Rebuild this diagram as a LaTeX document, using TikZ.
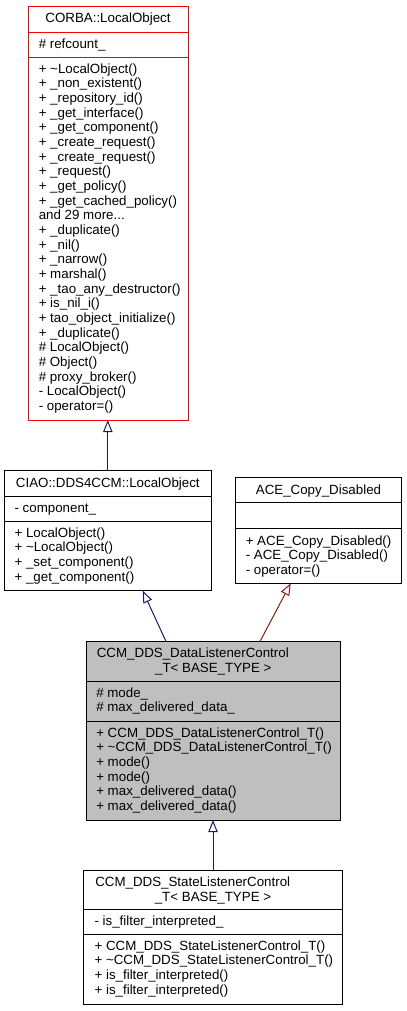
\documentclass[tikz,border=0pt]{standalone}
\usepackage{fontspec}
\setmainfont{Liberation Sans}
\usetikzlibrary{arrows.meta}
\definecolor{edgeblue}{HTML}{191970}
\definecolor{edgered}{HTML}{8B1A1A}
\definecolor{boxgray}{HTML}{BFBFBF}
\begin{document}
\begin{tikzpicture}[x=0.75pt,y=-0.75pt,
  box/.style={draw=black, line width=0.75pt, inner sep=0, outer sep=0, anchor=north west},
  mem/.style={anchor=base west, inner sep=0, font=\fontsize{10}{11}\selectfont},
  hdr/.style={anchor=base, inner sep=0, font=\fontsize{10}{11}\selectfont},
  sepline/.style={line width=0.75pt},
  inhB/.style={draw=edgeblue, line width=0.75pt, -{Triangle[open, length=9pt, width=7pt]}},
  inhR/.style={draw=edgered, line width=0.75pt, -{Triangle[open, length=9pt, width=7pt]}}]
\useasboundingbox (0,0) rectangle (407,1011);

% ---------- CORBA::LocalObject ----------
\node[box, draw=red, minimum width=120pt, minimum height=310.5pt] (corba) at (28,6) {};
\draw[sepline, red] (corba.west |- 0,32) -- (corba.east |- 0,32);
\draw[sepline, red] (corba.west |- 0,57) -- (corba.east |- 0,57);
\node[hdr] (corbaH) at (108,22.5) {CORBA::LocalObject};
\node[mem] (corbaA) at (38.5,48.3) {\# refcount\_};
\foreach \t [count=\i] in {
  {+ \textasciitilde LocalObject()},
  {+ \_non\_existent()},
  {+ \_repository\_id()},
  {+ \_get\_interface()},
  {+ \_get\_component()},
  {+ \_create\_request()},
  {+ \_create\_request()},
  {+ \_request()},
  {+ \_get\_policy()},
  {+ \_get\_cached\_policy()},
  {and 29 more{.}{.}{.}},
  {+ \_duplicate()},
  {+ \_nil()},
  {+ \_narrow()},
  {+ marshal()},
  {+ \_tao\_any\_destructor()},
  {+ is\_nil\_i()},
  {+ tao\_object\_initialize()},
  {+ \_duplicate()},
  {\# LocalObject()},
  {\# Object()},
  {\# proxy\_broker()},
  {- LocalObject()},
  {- operator=()}}
  \node[mem] (corbaM\i) at (38.5,{73.3+14.667*(\i-1)}) {\t};

% ---------- CIAO::DDS4CCM::LocalObject ----------
\node[box, minimum width=155.25pt, minimum height=90pt] (ciao) at (4.3,470.7) {};
\draw[sepline] (ciao.west |- 0,496) -- (ciao.east |- 0,496);
\draw[sepline] (ciao.west |- 0,521) -- (ciao.east |- 0,521);
\node[hdr] (ciaoH) at (107.8,487) {CIAO::DDS4CCM::LocalObject};
\node[mem] (ciaoA) at (14.3,512.3) {- component\_};
\foreach \t [count=\i] in {
  {+ LocalObject()},
  {+ \textasciitilde LocalObject()},
  {+ \_set\_component()},
  {+ \_get\_component()}}
  \node[mem] (ciaoM\i) at (14.3,{537.3+14.667*(\i-1)}) {\t};

% ---------- ACE_Copy_Disabled ----------
\node[box, minimum width=124.8pt, minimum height=79.2pt] (ace) at (235.3,477.7) {};
\draw[sepline] (ace.west |- 0,502.7) -- (ace.east |- 0,502.7);
\draw[sepline] (ace.west |- 0,528.7) -- (ace.east |- 0,528.7);
\node[hdr] (aceH) at (318.5,494) {ACE\_Copy\_Disabled};
\foreach \t [count=\i] in {
  {+ ACE\_Copy\_Disabled()},
  {- ACE\_Copy\_Disabled()},
  {- operator=()}}
  \node[mem] (aceM\i) at (245.5,{545+14.667*(\i-1)}) {\t};

% ---------- CCM_DDS_DataListenerControl_T ----------
\node[box, fill=boxgray, minimum width=191pt, minimum height=133.9pt] (data) at (86,641.5) {};
\draw[sepline] (data.west |- 0,681) -- (data.east |- 0,681);
\draw[sepline] (data.west |- 0,721) -- (data.east |- 0,721);
\node[mem] (dataH1) at (96.6,657.8) {CCM\_DDS\_DataListenerControl};
\node[hdr] (dataH2) at (213.3,672.5) {\_T< BASE\_TYPE >};
\node[mem] (dataA1) at (96,697.3) {\# mode\_};
\node[mem] (dataA2) at (96,711.97) {\# max\_delivered\_data\_};
\foreach \t [count=\i] in {
  {+ CCM\_DDS\_DataListenerControl\_T()},
  {+ \textasciitilde CCM\_DDS\_DataListenerControl\_T()},
  {+ mode()},
  {+ mode()},
  {+ max\_delivered\_data()},
  {+ max\_delivered\_data()}}
  \node[mem] (dataM\i) at (96,{737.3+14.667*(\i-1)}) {\t};

% ---------- CCM_DDS_StateListenerControl_T ----------
\node[box, minimum width=194.55pt, minimum height=100.7pt] (state) at (83.3,870) {};
\draw[sepline] (state.west |- 0,909.3) -- (state.east |- 0,909.3);
\draw[sepline] (state.west |- 0,934) -- (state.east |- 0,934);
\node[mem] (stateH1) at (95,886.3) {CCM\_DDS\_StateListenerControl};
\node[hdr] (stateH2) at (213,901) {\_T< BASE\_TYPE >};
\node[mem] (stateA1) at (94.3,925.6) {- is\_filter\_interpreted\_};
\foreach \t [count=\i] in {
  {+ CCM\_DDS\_StateListenerControl\_T()},
  {+ \textasciitilde CCM\_DDS\_StateListenerControl\_T()},
  {+ is\_filter\_interpreted()},
  {+ is\_filter\_interpreted()}}
  \node[mem] (stateM\i) at (94.3,{950.3+14.667*(\i-1)}) {\t};

% ---------- inheritance connectors ----------
\draw[inhB] (ciao.north) -- (ciao.north |- corba.south);
\draw[inhB] ([xshift=60pt]data.north west) -- ([xshift=103.8pt]ciao.south west);
\draw[inhR] ([xshift=130.5pt]data.north west) -- ([xshift=41.55pt]ace.south west);
\draw[inhB] (state.north) -- (state.north |- data.south);
\end{tikzpicture}
\end{document}
